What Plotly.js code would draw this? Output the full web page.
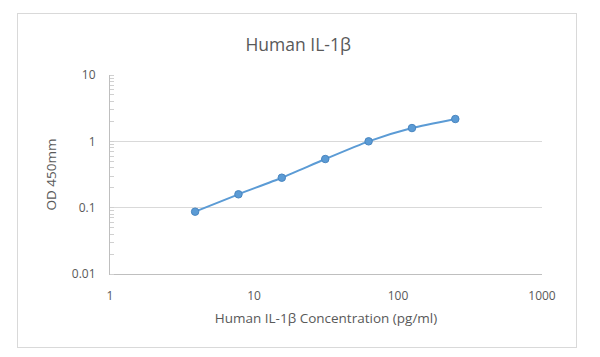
<!DOCTYPE html>
<html>
<head>
<meta charset="utf-8">
<script src="https://cdn.plot.ly/plotly-3.0.1.min.js"></script>
<style>
html,body{margin:0;padding:0;background:#fff;}
#frame{position:absolute;left:17px;top:13px;width:558px;height:333px;border:1px solid #d9d9d9;}
#chart{position:absolute;left:0;top:0;width:600px;height:357px;}
</style>
</head>
<body>
<div id="frame"></div>
<div id="chart"></div>
<script>
const concentration = [3.9, 7.8, 15.6, 31.25, 62.5, 125, 250];
const od450 = [0.087, 0.159, 0.283, 0.541, 1.0, 1.585, 2.17];
const xTicks = [1, 10, 100, 1000];
const yTicks = [0.01, 0.1, 1, 10];

const fontFam = '"Open Sans", "Noto Sans", sans-serif';
const trace = {
  x: concentration, y: od450, type: 'scatter', mode: 'lines+markers',
  line: {color: '#5B9BD5', width: 2, shape: 'spline', smoothing: 0.6},
  marker: {color: '#5B9BD5', size: 7.5, line: {color: '#4a86c0', width: 1}},
  showlegend: false, hoverinfo: 'skip'
};
const layout = {
  width: 600, height: 357,
  paper_bgcolor: 'rgba(0,0,0,0)', plot_bgcolor: 'rgba(0,0,0,0)',
  margin: {l: 110, r: 58, t: 75, b: 83},
  font: {family: fontFam, color: '#595959', size: 12},
  title: {text: 'Human IL-1β', x: 0.497, xanchor: 'center', y: 0.875, yanchor: 'middle',
          font: {family: fontFam, size: 17.5, color: '#595959'}},
  xaxis: {
    type: 'log', range: [0, 3], tickvals: xTicks, ticktext: xTicks.map(String),
    showgrid: false, zeroline: false, showline: true, linecolor: '#bfbfbf', linewidth: 1,
    ticks: '', ticklabelstandoff: 11,
    tickfont: {family: fontFam, size: 12, color: '#595959'},
    title: {text: 'Human IL-1β Concentration (pg/ml)', standoff: 10,
            font: {family: fontFam, size: 13.5, color: '#595959'}}
  },
  yaxis: {
    type: 'log', range: [-2, 1], tickvals: yTicks, ticktext: ['0.01', '0.1', '1', '10'],
    showgrid: true, gridcolor: '#d9d9d9', gridwidth: 1, zeroline: false,
    showline: true, linecolor: '#bfbfbf', linewidth: 1,
    ticks: '', ticklabelstandoff: 11,
    minor: {ticks: 'inside', ticklen: 4, tickcolor: '#d0d0d0', dtick: 'D1', showgrid: false},
    tickfont: {family: fontFam, size: 12, color: '#595959'},
    title: {text: 'OD 450mm', standoff: 12, font: {family: fontFam, size: 13.5, color: '#595959'}}
  }
};
Plotly.newPlot('chart', [trace], layout, {staticPlot: true, displayModeBar: false});
</script>
</body>
</html>
